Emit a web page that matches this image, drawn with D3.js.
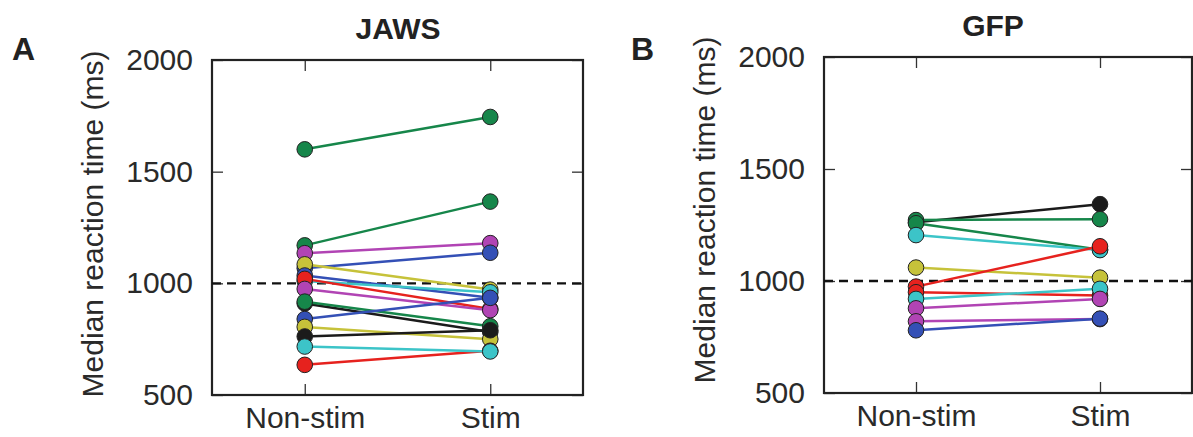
<!DOCTYPE html>
<html lang="en">
<head>
    <meta charset="UTF-8">
    <title>JAWS / GFP median reaction time</title>
    <script src="https://d3js.org/d3.v7.min.js"></script>
    <style>
        body { margin: 0; background: #fff; }
        svg { display: block; font-family: "Liberation Sans", Arial, sans-serif; }
    </style>
</head>
<body>
<script>
    /* data (ms) */
    const conditions = ["Non-stim", "Stim"];
    const yTicks = [500, 1000, 1500, 2000];
    const baseline = 1000;

    // JAWS, one entry per animal
    const jawsColors  = ["green", "green", "magenta", "blue", "yellow", "blue", "cyan", "red", "magenta", "black", "green", "blue", "yellow", "black", "red", "cyan"];
    const jawsNonStim = [1600, 1170, 1135, 1068, 1085, 1035, 1010, 1020, 975, 910, 918, 840, 805, 762, 635, 717];
    const jawsStim    = [1745, 1366, 1180, 1137, 972, 935, 960, 885, 880, 782, 808, 935, 750, 790, 698, 695];

    // GFP
    const gfpColors  = ["black", "green", "green", "cyan", "yellow", "red", "red", "cyan", "magenta", "magenta", "blue"];
    const gfpNonStim = [1262, 1272, 1258, 1205, 1060, 975, 950, 920, 878, 820, 780];
    const gfpStim    = [1343, 1276, 1140, 1138, 1015, 1155, 935, 965, 920, 830, 832];

    const palette = {
        green: "#16864a",
        magenta: "#b144b4",
        blue: "#3450b6",
        yellow: "#c6c23a",
        cyan: "#3cc4c8",
        red: "#e6221e",
        black: "#1b1b1b"
    };

    const width = 1193, height = 437;
    const svg = d3.select("body").append("svg")
        .attr("width", width)
        .attr("height", height);

    /* one panel: box, inward ticks, dashed 1000 line, paired points */
    function drawPanel(p) {
        let w = p.right - p.left,
            h = p.bottom - p.top;

        let x = d3.scalePoint().domain(conditions).range([0, w]).padding(0.5);
        let y = d3.scaleLinear().domain([500, 2000]).range([h, 0]);

        let g = svg.append("g").attr("transform", `translate(${p.left}, ${p.top})`);

        // axes, ticks pointing into the box
        g.append("g")
            .call(d3.axisLeft(y).tickValues(yTicks).tickFormat(d3.format("d"))
                .tickSizeInner(-11).tickSizeOuter(0).tickPadding(19));
        g.append("g").attr("transform", `translate(${w}, 0)`)
            .call(d3.axisRight(y).tickValues(yTicks).tickSizeInner(-11).tickSizeOuter(0).tickFormat(""));
        g.append("g").attr("transform", `translate(0, ${h})`)
            .call(d3.axisBottom(x).tickSizeInner(-11).tickSizeOuter(0).tickPadding(12));
        g.append("g")
            .call(d3.axisTop(x).tickSizeInner(-11).tickSizeOuter(0).tickFormat(""));

        g.selectAll(".domain").remove();
        g.selectAll(".tick line").attr("stroke", "#333").attr("stroke-width", 1.3);
        g.selectAll(".tick text")
            .attr("font-size", 30)
            .attr("font-family", "Liberation Sans, Arial, sans-serif")
            .attr("fill", "#2a2a2a");

        // frame
        g.append("rect")
            .attr("width", w).attr("height", h)
            .attr("fill", "none")
            .attr("stroke", "#222")
            .attr("stroke-width", 2.2);

        // dashed reference line
        g.append("line")
            .attr("x1", 0).attr("x2", w)
            .attr("y1", y(baseline)).attr("y2", y(baseline))
            .attr("stroke", "#111")
            .attr("stroke-width", 2.4)
            .attr("stroke-dasharray", "9,6");

        let rows = p.colors.map((c, i) => ({ c: c, a: p.nonStim[i], b: p.stim[i] }));

        let pairs = g.selectAll(".pair")
            .data(rows)
            .enter()
            .append("g")
            .attr("class", "pair");

        pairs.append("line")
            .attr("x1", x(conditions[0])).attr("x2", x(conditions[1]))
            .attr("y1", d => y(d.a)).attr("y2", d => y(d.b))
            .attr("stroke", d => palette[d.c])
            .attr("stroke-width", 2.5);

        pairs.selectAll("circle")
            .data(d => [[conditions[0], d.a, d.c], [conditions[1], d.b, d.c]])
            .enter()
            .append("circle")
            .attr("cx", d => x(d[0]))
            .attr("cy", d => y(d[1]))
            .attr("r", 7.8)
            .attr("fill", d => palette[d[2]])
            .attr("stroke", "#222")
            .attr("stroke-width", 1);

        // title
        svg.append("text")
            .attr("x", p.titleX).attr("y", p.top - 21)
            .attr("text-anchor", "middle")
            .attr("font-size", 30)
            .attr("font-weight", "bold")
            .attr("fill", "#222")
            .text(p.title);

        // panel letter
        svg.append("text")
            .attr("x", p.letterX).attr("y", 60)
            .attr("font-size", 32)
            .attr("font-weight", "bold")
            .attr("fill", "#222")
            .text(p.letter);

        // y label
        svg.append("text")
            .attr("transform", `translate(${p.left - 109}, ${p.labelY}) rotate(-90)`)
            .attr("text-anchor", "middle")
            .attr("font-size", 30)
            .attr("fill", "#2a2a2a")
            .text("Median reaction time (ms)");
    }

    drawPanel({
        left: 212, right: 583, top: 60, bottom: 395,
        colors: jawsColors, nonStim: jawsNonStim, stim: jawsStim,
        title: "JAWS", titleX: 398, letter: "A", letterX: 12, labelY: 224
    });

    drawPanel({
        left: 824, right: 1192, top: 57, bottom: 393,
        colors: gfpColors, nonStim: gfpNonStim, stim: gfpStim,
        title: "GFP", titleX: 993, letter: "B", letterX: 631, labelY: 210
    });
</script>
</body>
</html>
